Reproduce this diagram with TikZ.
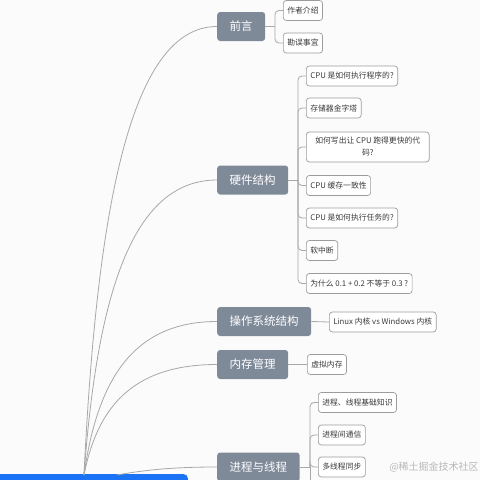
\documentclass[tikz,border=0pt]{standalone}
\usepackage{fontspec}
\setmainfont{Noto Sans CJK SC}
\usepackage{xcolor}

\definecolor{topicgray}{HTML}{7F8A99}
\definecolor{linegray}{HTML}{A8A8A8}
\definecolor{boxline}{HTML}{9C9C9C}
\definecolor{textgray}{HTML}{3A3A3A}
\definecolor{rootblue}{HTML}{1A73F5}
\definecolor{paper}{HTML}{FBFBFB}

\begin{document}
\begin{tikzpicture}[x=1pt,y=-1pt,
    topic/.style={fill=topicgray, text=white, rounded corners=3pt, anchor=west,
      minimum height=29pt, inner xsep=12.5pt, font=\fontsize{11.5}{13}\selectfont},
    sub/.style={draw=boxline, line width=0.7pt, fill=white, text=textgray,
      rounded corners=3pt, anchor=west, minimum height=20pt, inner xsep=4pt,
      inner ysep=2pt, align=center, font=\fontsize{7.8}{12}\selectfont},
    conn/.style={draw=linegray, line width=0.8pt},
    brace/.style={conn, rounded corners=4pt}]
      \fill[paper] (0,0) rectangle (480,480);
      \useasboundingbox (0,0) rectangle (480,480);

      % root (cut off at the bottom)
      \node[fill=rootblue, rounded corners=4pt, minimum width=200pt, minimum height=20pt,
        anchor=north east, inner sep=0pt] (root) at (188,474) {};
      \coordinate (hub) at (84,475);
      \coordinate (hub2) at (117,475);

      % main topics
      \node[topic] (pre) at (217,26.5) {前言};
      \node[topic] (hw) at (217,180) {硬件结构};
      \node[topic] (os) at (217,321.5) {操作系统结构};
      \node[topic] (mm) at (217,364.5) {内存管理};
      \node[topic] (pt) at (217,467) {进程与线程};

      % subtopics
      \node[sub] (pre1) at (283,10.5) {作者介绍};
      \node[sub] (pre2) at (283,43) {勘误事宜};

      \node[sub] (hw1) at (306,76) {CPU 是如何执行程序的?};
      \node[sub] (hw2) at (306,108) {存储器金字塔};
      \node[sub, minimum height=30pt, inner xsep=9pt] (hw3) at (306,147) {如何写出让 CPU 跑得更快的代\\码?};
      \node[sub] (hw4) at (306,185.5) {CPU 缓存一致性};
      \node[sub] (hw5) at (306,218) {CPU 是如何执行任务的?};
      \node[sub] (hw6) at (306,250.5) {软中断};
      \node[sub] (hw7) at (306,283.5) {为什么 0.1 + 0.2 不等于 0.3 ?};

      \node[sub] (os1) at (329,322) {Linux 内核 vs Windows 内核};
      \node[sub] (mm1) at (307,364.5) {虚拟内存};

      \node[sub] (pt1) at (318,402.5) {进程、线程基础知识};
      \node[sub] (pt2) at (318,435) {进程间通信};
      \node[sub] (pt3) at (318,467) {多线程同步};

      \node[text=black!28, font=\fontsize{10}{12}\selectfont] (mark) at (434,467) {@稀土掘金技术社区};

      % curves from the root
      \draw[conn] (hub) .. controls (97,206) and (131,26.5) .. (pre.west);
      \draw[conn] (hub) .. controls (97,298) and (131,180) .. (hw.west);
      \draw[conn] (hub) .. controls (97,383) and (131,321.5) .. (os.west);
      \draw[conn] (hub) .. controls (97,409) and (131,364.5) .. (mm.west);
      \draw[conn] (hub2) .. controls (150,469) and (180,467) .. (pt.west);

      % brackets
      \coordinate (preb) at (275,26.5);
      \draw[conn] (pre.east) -- (preb);
      \foreach \c in {pre1,pre2}
        \draw[brace] (preb) |- (\c.west);

      \coordinate (hwb) at (298,180);
      \draw[conn] (hw.east) -- (hwb);
      \foreach \c in {hw1,hw2,hw3,hw4,hw5,hw6,hw7}
        \draw[brace] (hwb) |- (\c.west);

      \draw[conn] (os.east) -- (os1.west);
      \draw[conn] (mm.east) -- (mm1.west);

      \coordinate (ptb) at (310,467);
      \coordinate (ptend) at (310,495);
      \draw[conn] (pt.east) -- (ptb);
      \foreach \c in {pt1,pt2,pt3}
        \draw[brace] (ptb) |- (\c.west);
      \draw[conn] (ptb) -- (ptend);
\end{tikzpicture}
\end{document}
